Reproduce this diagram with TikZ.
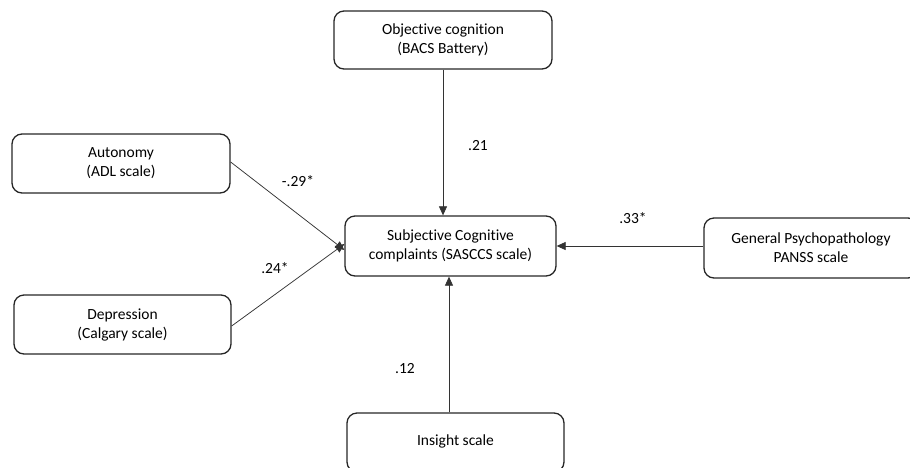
\documentclass[tikz,border=0pt]{standalone}
\usepackage{fontspec}
\setmainfont{Carlito}[Ligatures=NoCommon]
\usetikzlibrary{arrows.meta,calc}
\begin{document}
\begin{tikzpicture}[x=1pt,y=-1pt,
  box/.style={draw=black!85, line width=1.3pt, rounded corners=10pt, align=center,
    font=\fontsize{15.5}{19}\selectfont, inner sep=0pt},
  conn/.style={draw=black!80, line width=0.75pt, -{Triangle[length=9pt,width=8pt]}},
  coef/.style={font=\fontsize{15.5}{18}\selectfont, inner sep=0pt}]
\useasboundingbox (0,0) rectangle (910,467);
\clip (0,0) rectangle (910,467);
\node[box, minimum width=218, minimum height=58] (obj) at (443,40) {Objective cognition\\(BACS Battery)};
\node[box, minimum width=218, minimum height=59] (aut) at (121,163.5) {Autonomy\\(ADL scale)};
\node[box, minimum width=217, minimum height=59] (dep) at (122.5,324.5) {Depression\\(Calgary scale)};
\node[box, minimum width=211, minimum height=60] (cent) at (450.5,246) {Subjective Cognitive\\complaints (SASCCS scale)};
\node[box, minimum width=214, minimum height=60] (gen) at (811,248) {General Psychopathology\\PANSS scale};
\node[box, minimum width=217, minimum height=59] (ins) at (455.5,442.5) {\raisebox{5pt}{Insight scale}};
\draw[conn] (obj.south) -- (obj.south |- cent.north);
\draw[conn] ([yshift=1.5]aut.east) -- ([yshift=-4]cent.west);
\draw[conn] ([yshift=-1.5]dep.east) -- ([yshift=2]cent.west);
\draw[conn] ([yshift=2]gen.west) -- ([yshift=2]gen.west -| cent.east);
\draw[conn] ([xshift=-6.5]ins.north) -- ([xshift=-6.5]ins.north |- cent.south);
\node[coef] (c1) at (478,146) {.21};
\node[coef] (c2) at (298,181) {-.29*};
\node[coef] (c3) at (275,268) {.24*};
\node[coef] (c4) at (633,218) {.33*};
\node[coef] (c5) at (405,369) {.12};
\end{tikzpicture}
\end{document}
